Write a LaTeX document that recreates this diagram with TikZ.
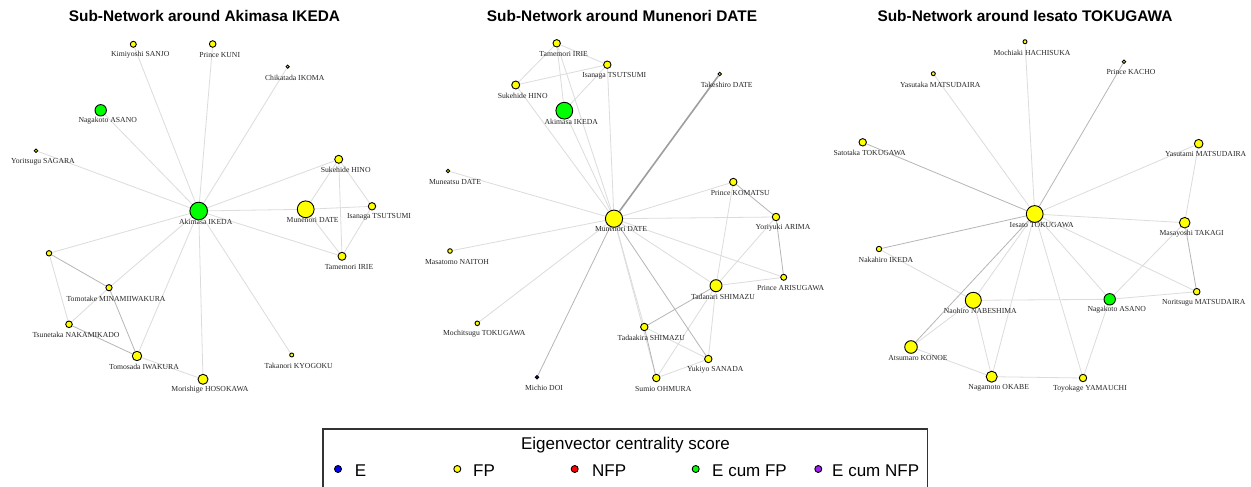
\documentclass[tikz,border=0pt]{standalone}
\usepackage{fontspec}
\setmainfont{Liberation Serif}
\newfontfamily\legsans{Liberation Sans}
\pgfdeclarelayer{bg}
\pgfsetlayers{bg,main}
\definecolor{lightedge}{HTML}{DCDCDC}
\definecolor{midedge}{HTML}{B6B6B6}
\definecolor{thickedge}{HTML}{9E9E9E}
\definecolor{vyellow}{HTML}{FFFF00}
\definecolor{vgreen}{HTML}{00FF00}
\definecolor{vblue}{HTML}{0000FF}
\definecolor{vred}{HTML}{FF0000}
\definecolor{vpurple}{HTML}{A020F0}
\tikzset{
  vert/.style={circle, draw=black, line width=0.9pt, inner sep=0pt},
  lab/.style={font=\fontsize{7.7}{9}\selectfont, text=black!85, inner sep=0pt},
  el/.style={draw=lightedge, line width=0.8pt},
  em/.style={draw=midedge, line width=0.8pt},
  eth/.style={draw=thickedge, line width=1.6pt},
  ptitle/.style={font=\legsans\bfseries\fontsize{15.4}{18}\selectfont, anchor=base, inner sep=0pt},
  legtext/.style={font=\legsans\fontsize{17}{20}\selectfont, anchor=base west, inner sep=0pt},
  legdot/.style={circle, draw=black, line width=0.9pt, inner sep=0pt, minimum size=7pt},
}
\newcommand\V[6]{%
  \node[vert, minimum size=#4*2pt, fill=#5] (#1) at (#2,#3) {};
  \node[lab] (#1-l) at (#2+7,#3+10.7) {#6};}
\begin{document}
\begin{tikzpicture}[x=1pt, y=-1pt]
\useasboundingbox (0,0) rectangle (1251,487);

% ---------- titles ----------
\node[ptitle] (t1) at (204.5,22) {Sub-Network around Akimasa IKEDA};
\node[ptitle] (t2) at (622,22) {Sub-Network around Munenori DATE};
\node[ptitle] (t3) at (1025,22) {Sub-Network around Iesato TOKUGAWA};

% ---------- panel 1 ----------
\V{aKimiyoshi}{133.3}{44.3}{3}{vyellow}{Kimiyoshi SANJO}
\V{aKuni}{212.7}{44}{3.3}{vyellow}{Prince KUNI}
\V{aChikatada}{287.7}{66.7}{1.6}{vyellow}{Chikatada IKOMA}
\V{aNagakoto}{100.7}{110.3}{5.7}{vgreen}{Nagakoto ASANO}
\V{aYoritsugu}{36}{150.7}{1.8}{vyellow}{Yoritsugu SAGARA}
\V{aAkimasa}{198.7}{211}{8.8}{vgreen}{Akimasa IKEDA}
\V{aSukehide}{338.7}{159.3}{4}{vyellow}{Sukehide HINO}
\V{aMunenori}{305.7}{209.3}{8.4}{vyellow}{Munenori DATE}
\V{aIsanaga}{372}{206.3}{3.7}{vyellow}{Isanaga TSUTSUMI}
\V{aTamemori}{342}{256.3}{4}{vyellow}{Tamemori IRIE}
\node[vert, minimum size=5.4pt, fill=vyellow] (aAnon) at (49,253.3) {};
\V{aTomotake}{109}{287.7}{3.1}{vyellow}{Tomotake MINAMIIWAKURA}
\V{aTsunetaka}{69}{324.3}{3.3}{vyellow}{Tsunetaka NAKAMIKADO}
\V{aTomosada}{137}{356}{4.7}{vyellow}{Tomosada IWAKURA}
\V{aMorishige}{203}{379.3}{5}{vyellow}{Morishige HOSOKAWA}
\V{aTakanori}{291.7}{355}{2}{vyellow}{Takanori KYOGOKU}

% ---------- panel 2 ----------
\V{bTamemori}{556.7}{43.3}{3.7}{vyellow}{Tamemori IRIE}
\V{bIsanaga}{607.3}{64.7}{3.7}{vyellow}{Isanaga TSUTSUMI}
\V{bSukehide}{515.7}{85}{4}{vyellow}{Sukehide HINO}
\V{bAkimasa}{564.3}{110.7}{8.4}{vgreen}{Akimasa IKEDA}
\V{bTakeshiro}{719.7}{74}{1.7}{vyellow}{Takeshiro DATE}
\V{bMuneatsu}{448}{171}{1.7}{vyellow}{Muneatsu DATE}
\V{bKomatsu}{733.3}{182}{3.7}{vyellow}{Prince KOMATSU}
\V{bMunenori}{614}{218.7}{8.6}{vyellow}{Munenori DATE}
\V{bYoriyuki}{776}{217}{3.7}{vyellow}{Yoriyuki ARIMA}
\V{bMasatomo}{450}{251}{2.3}{vyellow}{Masatomo NAITOH}
\V{bArisugawa}{783.7}{277.3}{3}{vyellow}{Prince ARISUGAWA}
\V{bTadanari}{716}{285.7}{6}{vyellow}{Tadanari SHIMAZU}
\V{bMochitsugu}{477.3}{323.3}{2.3}{vyellow}{Mochitsugu TOKUGAWA}
\V{bTadaakira}{644.3}{327}{3.7}{vyellow}{Tadaakira SHIMAZU}
\V{bYukiyo}{708.3}{359}{3.7}{vyellow}{Yukiyo SANADA}
\V{bMichio}{537}{377.3}{1.7}{vblue}{Michio DOI}
\V{bSumio}{656.3}{378}{3.7}{vyellow}{Sumio OHMURA}

% ---------- panel 3 ----------
\V{cMochiaki}{1025}{41.7}{2}{vyellow}{Mochiaki HACHISUKA}
\V{cKacho}{1124}{61.7}{1.7}{vyellow}{Prince KACHO}
\V{cYasutaka}{933.3}{73.7}{2}{vyellow}{Yasutaka MATSUDAIRA}
\V{cSatotaka}{862.7}{142.3}{3.7}{vyellow}{Satotaka TOKUGAWA}
\V{cYasutami}{1198.7}{143.7}{4.3}{vyellow}{Yasutami MATSUDAIRA}
\V{cIesato}{1034.7}{214}{8.4}{vyellow}{Iesato TOKUGAWA}
\V{cMasayoshi}{1184.7}{222.7}{5.3}{vyellow}{Masayoshi TAKAGI}
\V{cNakahiro}{879}{249}{2.7}{vyellow}{Nakahiro IKEDA}
\V{cNaohiro}{973.3}{300.3}{8}{vyellow}{Naohiro NABESHIMA}
\V{cNagakoto}{1109.7}{299.3}{5.7}{vgreen}{Nagakoto ASANO}
\V{cNoritsugu}{1196.7}{291.7}{3.3}{vyellow}{Noritsugu MATSUDAIRA}
\V{cAtsumaro}{911}{347}{6.3}{vyellow}{Atsumaro KONOE}
\V{cNagamoto}{991.7}{376.7}{5.5}{vyellow}{Nagamoto OKABE}
\V{cToyokage}{1083}{378}{3.7}{vyellow}{Toyokage YAMAUCHI}

% ---------- edges ----------
\begin{pgfonlayer}{bg}
\fill[white] (0,0) rectangle (1251,487);
\foreach \u/\v in {aAkimasa/aKimiyoshi, aAkimasa/aKuni, aAkimasa/aChikatada,
  aAkimasa/aNagakoto, aAkimasa/aYoritsugu, aAkimasa/aSukehide, aAkimasa/aMunenori,
  aMunenori/aIsanaga, aAkimasa/aTamemori, aAkimasa/aAnon, aAkimasa/aTomotake,
  aAkimasa/aTomosada, aAkimasa/aMorishige, aAkimasa/aTakanori,
  aSukehide/aMunenori, aSukehide/aIsanaga, aSukehide/aTamemori,
  aMunenori/aTamemori, aIsanaga/aTamemori, aAnon/aTsunetaka,
  aTomotake/aTsunetaka, aTomosada/aMorishige}
  \draw[el] (\u) -- (\v);
\foreach \u/\v in {aAnon/aTomotake, aTomotake/aTomosada, aTsunetaka/aTomosada}
  \draw[em] (\u) -- (\v);

\foreach \u/\v in {bMunenori/bSukehide, bMunenori/bTamemori, bMunenori/bIsanaga,
  bMunenori/bAkimasa, bTamemori/bSukehide, bTamemori/bIsanaga, bSukehide/bIsanaga,
  bAkimasa/bIsanaga, bTamemori/bAkimasa, bMunenori/bMuneatsu, bMunenori/bKomatsu,
  bMunenori/bYoriyuki, bMunenori/bMasatomo, bMunenori/bMochitsugu,
  bMunenori/bTadaakira, bMunenori/bSumio, bMunenori/bTadanari,
  bMunenori/bArisugawa, bKomatsu/bTadanari, bYoriyuki/bTadanari,
  bTadanari/bArisugawa, bTadanari/bSumio, bTadanari/bYukiyo,
  bTadaakira/bYukiyo, bSumio/bYukiyo}
  \draw[el] (\u) -- (\v);
\foreach \u/\v in {bKomatsu/bYoriyuki, bYoriyuki/bArisugawa, bTadanari/bTadaakira,
  bTadaakira/bSumio, bMunenori/bYukiyo, bMunenori/bMichio}
  \draw[em] (\u) -- (\v);
\draw[eth] (bMunenori) -- (bTakeshiro);

\foreach \u/\v in {cIesato/cMochiaki, cIesato/cYasutaka, cIesato/cYasutami,
  cIesato/cMasayoshi, cIesato/cNaohiro, cIesato/cNagamoto, cIesato/cToyokage,
  cIesato/cNagakoto, cIesato/cNoritsugu, cYasutami/cMasayoshi,
  cMasayoshi/cNagakoto, cNagakoto/cNoritsugu, cNaohiro/cNagakoto,
  cNakahiro/cNaohiro, cNaohiro/cAtsumaro, cNaohiro/cNagamoto,
  cAtsumaro/cNagamoto, cNagamoto/cToyokage, cToyokage/cNagakoto}
  \draw[el] (\u) -- (\v);
\foreach \u/\v in {cIesato/cKacho, cIesato/cSatotaka, cIesato/cNakahiro,
  cIesato/cAtsumaro, cMasayoshi/cNoritsugu}
  \draw[em] (\u) -- (\v);
\end{pgfonlayer}

% ---------- legend ----------
\draw[draw=black!80, line width=1.1pt] (323,490) |- (927.5,429) -- (927.5,490);
\node[font=\legsans\fontsize{17}{20}\selectfont, anchor=base, inner sep=0pt] (legtitle) at (625.5,449.5) {Eigenvector centrality score};
\node[legdot, fill=vblue] (dE) at (338,469) {};
\node[legtext] (tE) at (354.7,476) {E};
\node[legdot, fill=vyellow] (dFP) at (457.3,469) {};
\node[legtext] (tFP) at (473,476) {FP};
\node[legdot, fill=vred] (dNFP) at (574.7,469) {};
\node[legtext] (tNFP) at (592,476) {NFP};
\node[legdot, fill=vgreen] (dEFP) at (695.7,469) {};
\node[legtext] (tEFP) at (712,476) {E cum FP};
\node[legdot, fill=vpurple] (dENFP) at (818.3,469) {};
\node[legtext] (tENFP) at (832,476) {E cum NFP};
\end{tikzpicture}
\end{document}
